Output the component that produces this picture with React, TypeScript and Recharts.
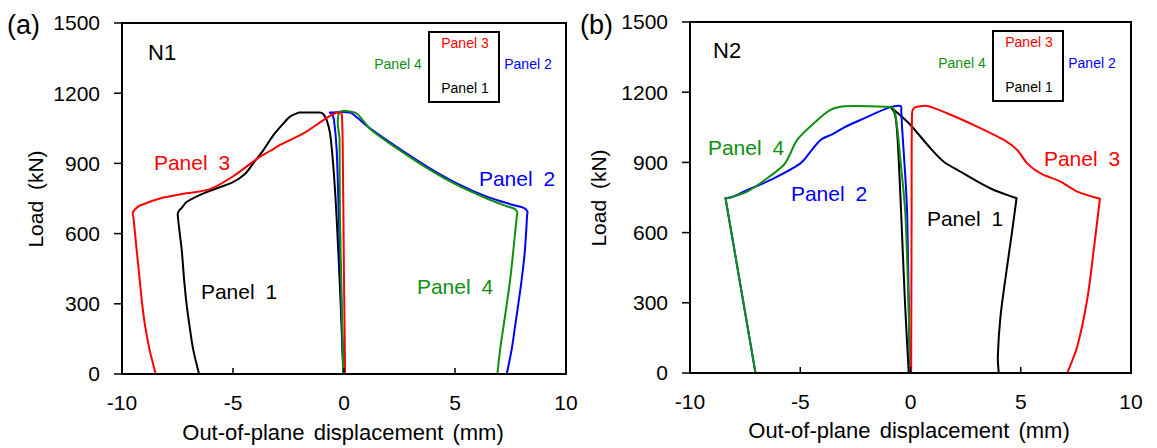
import React from 'react';
import { LineChart, Line, XAxis, YAxis, ReferenceArea } from 'recharts';

const FONT = '"Liberation Sans", Arial, Helvetica, sans-serif';

// Axis ticks
const X_TICKS = [-10, -5, 0, 5, 10];
const Y_TICKS = [0, 300, 600, 900, 1200, 1500];

// Series colours
const COLORS = {
  panel1: '#000000',
  panel2: '#0000ff',
  panel3: '#ff0000',
  panel4: '#0f8f0f',
};

// Specimen N1: [out-of-plane displacement (mm), load (kN)] in loading order
const N1_PANEL1: [number, number][] = [
  [-0.03, 0], [-0.15, 300], [-0.33, 665], [-0.48, 886], [-0.63, 1029], [-0.78, 1085],
  [-0.95, 1112], [-1.1, 1117], [-2.0, 1117], [-2.13, 1114], [-2.43, 1100], [-2.73, 1071],
  [-3.18, 1021], [-3.63, 957], [-4.09, 900], [-4.45, 856], [-5.0, 820], [-6.25, 775],
  [-7.09, 735], [-7.31, 710], [-7.45, 695], [-7.49, 680], [-7.31, 530], [-7.2, 400],
  [-7.09, 298], [-6.95, 200], [-6.79, 103], [-6.53, 0],
];
const N1_PANEL2: [number, number][] = [
  [-0.03, 0], [-0.12, 300], [-0.23, 665], [-0.33, 957], [-0.45, 1085], [-0.55, 1112],
  [-0.63, 1117], [0.27, 1117], [0.6, 1095], [1.17, 1050], [2.37, 971], [3.87, 879],
  [5.08, 815], [6.43, 758], [7.63, 722], [8.1, 710], [8.26, 695], [8.25, 680],
  [8.15, 530], [8.0, 400], [7.85, 298], [7.7, 200], [7.55, 103], [7.33, 0],
];
const N1_PANEL3: [number, number][] = [
  [0.05, 0], [0.0, 400], [-0.05, 900], [-0.1, 1110], [-0.21, 1117], [-0.48, 1111],
  [-0.93, 1085], [-1.83, 1028], [-2.88, 979], [-3.33, 953], [-3.78, 929], [-4.99, 845],
  [-6.04, 790], [-7.1, 772], [-8.29, 750], [-9.19, 720], [-9.4, 705], [-9.52, 687],
  [-9.49, 672], [-9.34, 530], [-9.2, 400], [-9.09, 298], [-8.95, 200], [-8.75, 100],
  [-8.48, 0],
];
const N1_PANEL4: [number, number][] = [
  [-0.03, 0], [-0.1, 300], [-0.18, 665], [-0.2, 1000], [-0.21, 1117], [0.5, 1117],
  [0.8, 1090], [1.2, 1045], [2.37, 965], [3.87, 872], [5.08, 808], [6.43, 750],
  [7.3, 718], [7.7, 705], [7.81, 690], [7.79, 680], [7.63, 530], [7.48, 400],
  [7.33, 298], [7.18, 200], [7.03, 103], [6.91, 0],
];

// Specimen N2 (a repeated point keeps a sharp corner)
const N2_PANEL1: [number, number][] = [
  [-0.08, 0], [-0.25, 300], [-0.42, 675], [-0.53, 903], [-0.62, 1046], [-0.72, 1110],
  [-0.91, 1138], [-0.91, 1138], [-0.45, 1100], [0, 1060], [0.91, 960], [1.51, 903],
  [2.27, 860], [3.0, 820], [3.78, 782], [4.38, 761], [4.81, 747], [4.81, 747],
  [4.6, 600], [4.38, 454], [4.08, 241], [3.96, 70], [4.0, 0],
];
const N2_PANEL2: [number, number][] = [
  [-0.03, 0], [-0.15, 675], [-0.23, 832], [-0.38, 1046], [-0.42, 1120], [-0.45, 1141],
  [-0.98, 1134], [-2.11, 1088], [-3.0, 1050], [-3.55, 1020], [-4.08, 996], [-4.5, 950],
  [-4.99, 896], [-6.35, 825], [-7.56, 775], [-8.1, 752], [-8.39, 747], [-8.39, 747],
  [-7.03, 0],
];
const N2_PANEL3: [number, number][] = [
  [0.03, 0], [0.05, 675], [0.07, 1110], [0.15, 1132], [0.3, 1138], [0.76, 1141],
  [1.66, 1110], [3.02, 1053], [4.23, 996], [4.84, 953], [5.29, 896], [5.9, 853],
  [6.8, 818], [7.56, 775], [8.3, 752], [8.59, 744], [8.59, 744], [8.31, 526],
  [8.01, 312], [7.56, 112], [7.11, 0],
];
const N2_PANEL4: [number, number][] = [
  [0, 0], [-0.23, 675], [-0.45, 903], [-0.6, 1046], [-0.7, 1110], [-0.8, 1132],
  [-1.05, 1138], [-3.0, 1140], [-3.63, 1124], [-4.38, 1067], [-5.14, 996], [-5.52, 924],
  [-5.75, 889], [-6.5, 832], [-7.41, 775], [-8.1, 752], [-8.39, 747], [-8.39, 747],
  [-7.03, 0],
];

const toPoints = (arr: [number, number][]) => arr.map(([x, load]) => ({ x, load }));

// Smooth path through every point: tangent follows the neighbours,
// handle length is a fraction of the segment so corners stay tight.
const smoothCurve = (context: any) => {
  let pts: [number, number][] = [];
  const unit = (dx: number, dy: number): [number, number] => {
    const l = Math.hypot(dx, dy) || 1;
    return [dx / l, dy / l];
  };
  return {
    areaStart() {},
    areaEnd() {},
    lineStart() {
      pts = [];
    },
    point(x: number, y: number) {
      pts.push([+x, +y]);
    },
    lineEnd() {
      if (!pts.length) return;
      context.moveTo(pts[0][0], pts[0][1]);
      for (let i = 0; i < pts.length - 1; i++) {
        const p0 = pts[Math.max(0, i - 1)];
        const p1 = pts[i];
        const p2 = pts[i + 1];
        const p3 = pts[Math.min(pts.length - 1, i + 2)];
        const d = Math.hypot(p2[0] - p1[0], p2[1] - p1[1]);
        if (d === 0) continue;
        const t1 = unit(p2[0] - p0[0], p2[1] - p0[1]);
        const t2 = unit(p3[0] - p1[0], p3[1] - p1[1]);
        const k = d * 0.3;
        context.bezierCurveTo(
          p1[0] + t1[0] * k,
          p1[1] + t1[1] * k,
          p2[0] - t2[0] * k,
          p2[1] - t2[1] * k,
          p2[0],
          p2[1],
        );
      }
    },
  };
};

type Series = { name: string; color: string; data: [number, number][] };

const N1_SERIES: Series[] = [
  { name: 'Panel 1', color: COLORS.panel1, data: N1_PANEL1 },
  { name: 'Panel 2', color: COLORS.panel2, data: N1_PANEL2 },
  { name: 'Panel 4', color: COLORS.panel4, data: N1_PANEL4 },
  { name: 'Panel 3', color: COLORS.panel3, data: N1_PANEL3 },
];
const N2_SERIES: Series[] = [
  { name: 'Panel 1', color: COLORS.panel1, data: N2_PANEL1 },
  { name: 'Panel 2', color: COLORS.panel2, data: N2_PANEL2 },
  { name: 'Panel 4', color: COLORS.panel4, data: N2_PANEL4 },
  { name: 'Panel 3', color: COLORS.panel3, data: N2_PANEL3 },
];

// X ticks point into the plot, labels sit below the axis
const XTick = (props: any) => {
  const { x, y, payload } = props;
  return (
    <g>
      <line x1={x} x2={x} y1={y} y2={y - 6} stroke="#000" strokeWidth={1.5} />
      <text x={x} y={y + 36} textAnchor="middle" fontSize={21} fill="#000" fontFamily={FONT}>
        {payload.value}
      </text>
    </g>
  );
};

type PanelProps = {
  series: Series[];
  width: number;
  margin: { top: number; right: number; bottom: number; left: number };
};

const LoadChart = ({ series, width, margin }: PanelProps) => (
  <LineChart width={width} height={448} margin={margin}>
    <ReferenceArea x1={-10} x2={10} y1={0} y2={1500} fill="none" stroke="#000" strokeWidth={2} />
    <XAxis
      type="number"
      dataKey="x"
      domain={[-10, 10]}
      ticks={X_TICKS}
      allowDataOverflow
      height={40}
      axisLine={{ stroke: '#000', strokeWidth: 2 }}
      tickLine={false}
      tickSize={0}
      tickMargin={0}
      tick={<XTick />}
      interval={0}
    />
    <YAxis
      type="number"
      dataKey="load"
      domain={[0, 1500]}
      ticks={Y_TICKS}
      allowDataOverflow
      width={60}
      axisLine={{ stroke: '#000', strokeWidth: 2 }}
      tickLine={{ stroke: '#000', strokeWidth: 1.5 }}
      tickSize={8}
      tickMargin={14}
      tick={{ fontSize: 21, fill: '#000', fontFamily: FONT }}
      interval={0}
    />
    {series.map((s) => (
      <Line
        key={s.name}
        data={toPoints(s.data)}
        dataKey="load"
        type={smoothCurve as any}
        stroke={s.color}
        strokeWidth={2}
        dot={false}
        activeDot={false}
        isAnimationActive={false}
      />
    ))}
  </LineChart>
);

type Note = { text: string; color: string; x: number; y: number; size: number; spacing?: number };

const NOTES_A: Note[] = [
  { text: 'Panel 3', color: COLORS.panel3, x: 192, y: 170, size: 21, spacing: 5 },
  { text: 'Panel 2', color: COLORS.panel2, x: 517, y: 186, size: 21, spacing: 5 },
  { text: 'Panel 1', color: COLORS.panel1, x: 239, y: 299, size: 21, spacing: 5 },
  { text: 'Panel 4', color: COLORS.panel4, x: 455, y: 294, size: 21, spacing: 5 },
  { text: 'Panel 3', color: COLORS.panel3, x: 465, y: 48, size: 14 },
  { text: 'Panel 1', color: COLORS.panel1, x: 465, y: 93, size: 14 },
  { text: 'Panel 4', color: COLORS.panel4, x: 398, y: 69, size: 14 },
  { text: 'Panel 2', color: COLORS.panel2, x: 528, y: 69, size: 14 },
];
const NOTES_B: Note[] = [
  { text: 'Panel 4', color: COLORS.panel4, x: 746, y: 155, size: 21, spacing: 5 },
  { text: 'Panel 2', color: COLORS.panel2, x: 829, y: 201, size: 21, spacing: 5 },
  { text: 'Panel 3', color: COLORS.panel3, x: 1082, y: 166, size: 21, spacing: 5 },
  { text: 'Panel 1', color: COLORS.panel1, x: 965, y: 226, size: 21, spacing: 5 },
  { text: 'Panel 3', color: COLORS.panel3, x: 1029, y: 47, size: 14 },
  { text: 'Panel 1', color: COLORS.panel1, x: 1029, y: 92, size: 14 },
  { text: 'Panel 4', color: COLORS.panel4, x: 962, y: 68, size: 14 },
  { text: 'Panel 2', color: COLORS.panel2, x: 1092, y: 68, size: 14 },
];

const Annotations = () => (
  <svg
    width={1157}
    height={448}
    style={{ position: 'absolute', left: 0, top: 0, pointerEvents: 'none' }}
    fontFamily={FONT}
  >
    <text x={7} y={34} fontSize={27} fill="#000">(a)</text>
    <text x={580} y={34} fontSize={27} fill="#000">(b)</text>
    <text x={148} y={60} fontSize={22} fill="#000">N1</text>
    <text x={713} y={58} fontSize={22} fill="#000">N2</text>

    <rect x={429} y={32} width={70} height={70} fill="none" stroke="#000" strokeWidth={2} />
    <rect x={993} y={31} width={70} height={70} fill="none" stroke="#000" strokeWidth={2} />

    {[...NOTES_A, ...NOTES_B].map((n, i) => (
      <text
        key={i}
        x={n.x}
        y={n.y}
        fontSize={n.size}
        fill={n.color}
        textAnchor="middle"
        style={{ wordSpacing: n.spacing ? `${n.spacing}px` : undefined }}
      >
        {n.text}
      </text>
    ))}

    <text x={343} y={440} fontSize={22} fill="#000" textAnchor="middle" style={{ wordSpacing: '3px' }}>
      Out-of-plane displacement (mm)
    </text>
    <text x={909} y={438} fontSize={22} fill="#000" textAnchor="middle" style={{ wordSpacing: '3px' }}>
      Out-of-plane displacement (mm)
    </text>
    <text
      transform="translate(43 199) rotate(-90)"
      fontSize={21}
      fill="#000"
      textAnchor="middle"
      style={{ wordSpacing: '5px' }}
    >
      Load (kN)
    </text>
    <text
      transform="translate(606 198) rotate(-90)"
      fontSize={21}
      fill="#000"
      textAnchor="middle"
      style={{ wordSpacing: '5px' }}
    >
      Load (kN)
    </text>
  </svg>
);

export default function App() {
  return (
    <div
      style={{
        position: 'absolute',
        left: 0,
        top: 0,
        width: 1157,
        height: 448,
        background: '#fff',
        overflow: 'hidden',
        fontFamily: FONT,
      }}
    >
      <div style={{ position: 'absolute', left: 0, top: 0 }}>
        <LoadChart series={N1_SERIES} width={580} margin={{ top: 23, right: 14, bottom: 34, left: 62 }} />
      </div>
      <div style={{ position: 'absolute', left: 580, top: 0 }}>
        <LoadChart series={N2_SERIES} width={577} margin={{ top: 22, right: 26, bottom: 35, left: 50 }} />
      </div>
      <Annotations />
    </div>
  );
}
